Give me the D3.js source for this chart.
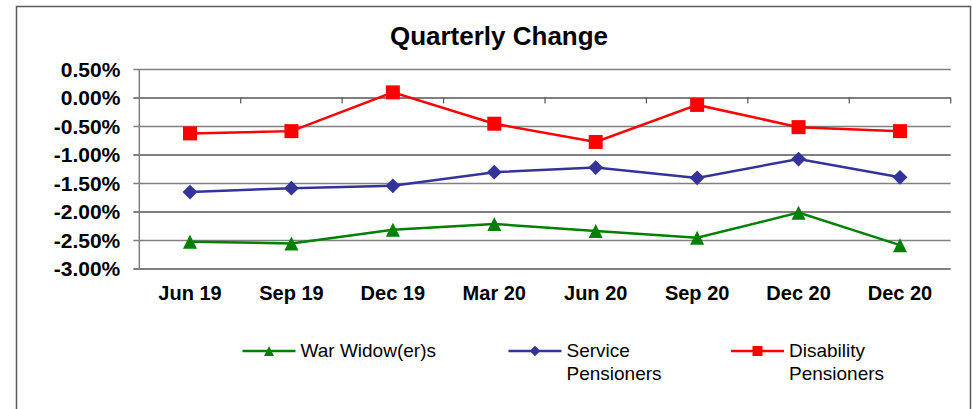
<!DOCTYPE html>
<html>
<head>
<meta charset="utf-8">
<script src="https://cdn.jsdelivr.net/npm/d3@7"></script>
<style>
  body { margin: 0; background: #fff; }
  text { font-family: "Liberation Sans", Arial, sans-serif; }
</style>
</head>
<body>
<div id="chart"></div>
<script>
// quarterly change chart
const categories = ['Jun 19', 'Sep 19', 'Dec 19', 'Mar 20', 'Jun 20', 'Sep 20', 'Dec 20', 'Dec 20'];
const warWidowers = [-2.53, -2.56, -2.32, -2.22, -2.34, -2.46, -2.02, -2.59];
const servicePensioners = [-1.66, -1.59, -1.55, -1.31, -1.23, -1.41, -1.08, -1.40];
const disabilityPensioners = [-0.63, -0.59, 0.09, -0.46, -0.78, -0.13, -0.52, -0.59];
const yTicks = [0.5, 0, -0.5, -1, -1.5, -2, -2.5, -3];

const series = [
  {name: ['War Widow(er)s'], values: warWidowers, color: '#008000', shape: 'triangle'},
  {name: ['Service', 'Pensioners'], values: servicePensioners, color: '#333399', shape: 'diamond'},
  {name: ['Disability', 'Pensioners'], values: disabilityPensioners, color: '#ff0000', shape: 'square'}
];

const width = 972;
const height = 409;
const plot = {left: 139.3, right: 950.7, top: 69, bottom: 268.5};

const svg = d3.select('#chart').append('svg')
  .attr('width', width)
  .attr('height', height);

// outer frame
svg.append('rect')
  .attr('x', 16.5)
  .attr('y', 6.5)
  .attr('width', 954)
  .attr('height', 420)
  .attr('fill', 'none')
  .attr('stroke', '#5a5a5a')
  .attr('stroke-width', 1.5);

svg.append('text')
  .attr('x', 499)
  .attr('y', 45)
  .attr('text-anchor', 'middle')
  .attr('font-size', 26)
  .attr('font-weight', 'bold')
  .text('Quarterly Change');

const x = d3.scaleBand()
  .domain(d3.range(categories.length))
  .range([plot.left, plot.right])
  .padding(0);

const y = d3.scaleLinear()
  .domain([-3, 0.5])
  .range([plot.bottom, plot.top]);

// gridlines + y axis
const yAxis = svg.append('g')
  .attr('transform', 'translate(' + plot.left + ',0)')
  .call(d3.axisLeft(y)
    .tickValues(yTicks)
    .tickSize(-(plot.right - plot.left))
    .tickPadding(19)
    .tickFormat(d => d.toFixed(2) + '%'));

yAxis.select('.domain').remove();
yAxis.selectAll('.tick line')
  .attr('x1', -6)
  .attr('stroke', (d, i) => i % 2 === 0 ? '#808080' : '#000')
  .attr('stroke-width', (d, i) => i % 2 === 0 ? 1.5 : 1);
yAxis.selectAll('.tick text')
  .attr('font-size', 21)
  .attr('font-weight', 'bold')
  .attr('fill', '#000')
  .attr('dy', '0.34em')
  .style('font-family', '"Liberation Sans", Arial, sans-serif');

svg.append('line')
  .attr('x1', plot.left).attr('x2', plot.left)
  .attr('y1', plot.top).attr('y2', plot.bottom)
  .attr('stroke', '#808080')
  .attr('stroke-width', 1.5);

// category axis sits on the zero line
const boundaries = d3.range(1, categories.length + 1).map(i => plot.left + i * x.bandwidth());
svg.append('g')
  .selectAll('line')
  .data(boundaries)
  .enter().append('line')
  .attr('x1', d => d).attr('x2', d => d)
  .attr('y1', y(0)).attr('y2', y(0) + 6)
  .attr('stroke', '#555')
  .attr('stroke-width', 1.2);

svg.append('g')
  .selectAll('text')
  .data(categories)
  .enter().append('text')
  .attr('x', (d, i) => x(i) + x.bandwidth() / 2)
  .attr('y', 300)
  .attr('text-anchor', 'middle')
  .attr('font-size', 20)
  .attr('font-weight', 'bold')
  .text(d => d);

function markerPath (shape, s) {
  if (shape === 'triangle') {
    let p = d3.path();
    p.moveTo(0, -s / 2);
    p.lineTo(s / 2, s / 2);
    p.lineTo(-s / 2, s / 2);
    p.closePath();
    return p.toString();
  }
  return d3.symbol(d3.symbolSquare, s * s)();
}

function markerSize (shape, big) {
  if (shape === 'triangle') return big ? 14 : 10;
  if (shape === 'diamond') return big ? 10.5 : 7.5;
  return big ? 14 : 10;
}

const line = d3.line()
  .x((d, i) => x(i) + x.bandwidth() / 2)
  .y(d => y(d));

series.forEach(s => {
  svg.append('path')
    .datum(s.values)
    .attr('fill', 'none')
    .attr('stroke', s.color)
    .attr('stroke-width', 2.5)
    .attr('d', line);

  svg.append('g')
    .selectAll('path')
    .data(s.values)
    .enter().append('path')
    .attr('d', markerPath(s.shape, markerSize(s.shape, true)))
    .attr('transform', (d, i) => 'translate(' + (x(i) + x.bandwidth() / 2) + ',' + y(d) + ')' +
      (s.shape === 'diamond' ? ' rotate(45)' : ''))
    .attr('fill', s.color);
});

// legend
const legendX = [242.5, 508.5, 731];
series.forEach((s, k) => {
  const g = svg.append('g').attr('transform', 'translate(' + legendX[k] + ',351)');
  g.append('line')
    .attr('x1', 0).attr('x2', 53)
    .attr('stroke', s.color)
    .attr('stroke-width', 2.5);
  g.append('path')
    .attr('d', markerPath(s.shape, markerSize(s.shape, false)))
    .attr('transform', 'translate(26.5,0)' + (s.shape === 'diamond' ? ' rotate(45)' : ''))
    .attr('fill', s.color);
  const t = g.append('text')
    .attr('x', 58)
    .attr('y', 6)
    .attr('font-size', 19);
  s.name.forEach((n, j) => {
    t.append('tspan')
      .attr('x', 58)
      .attr('dy', j === 0 ? 0 : 22.5)
      .text(n);
  });
});
</script>
</body>
</html>
